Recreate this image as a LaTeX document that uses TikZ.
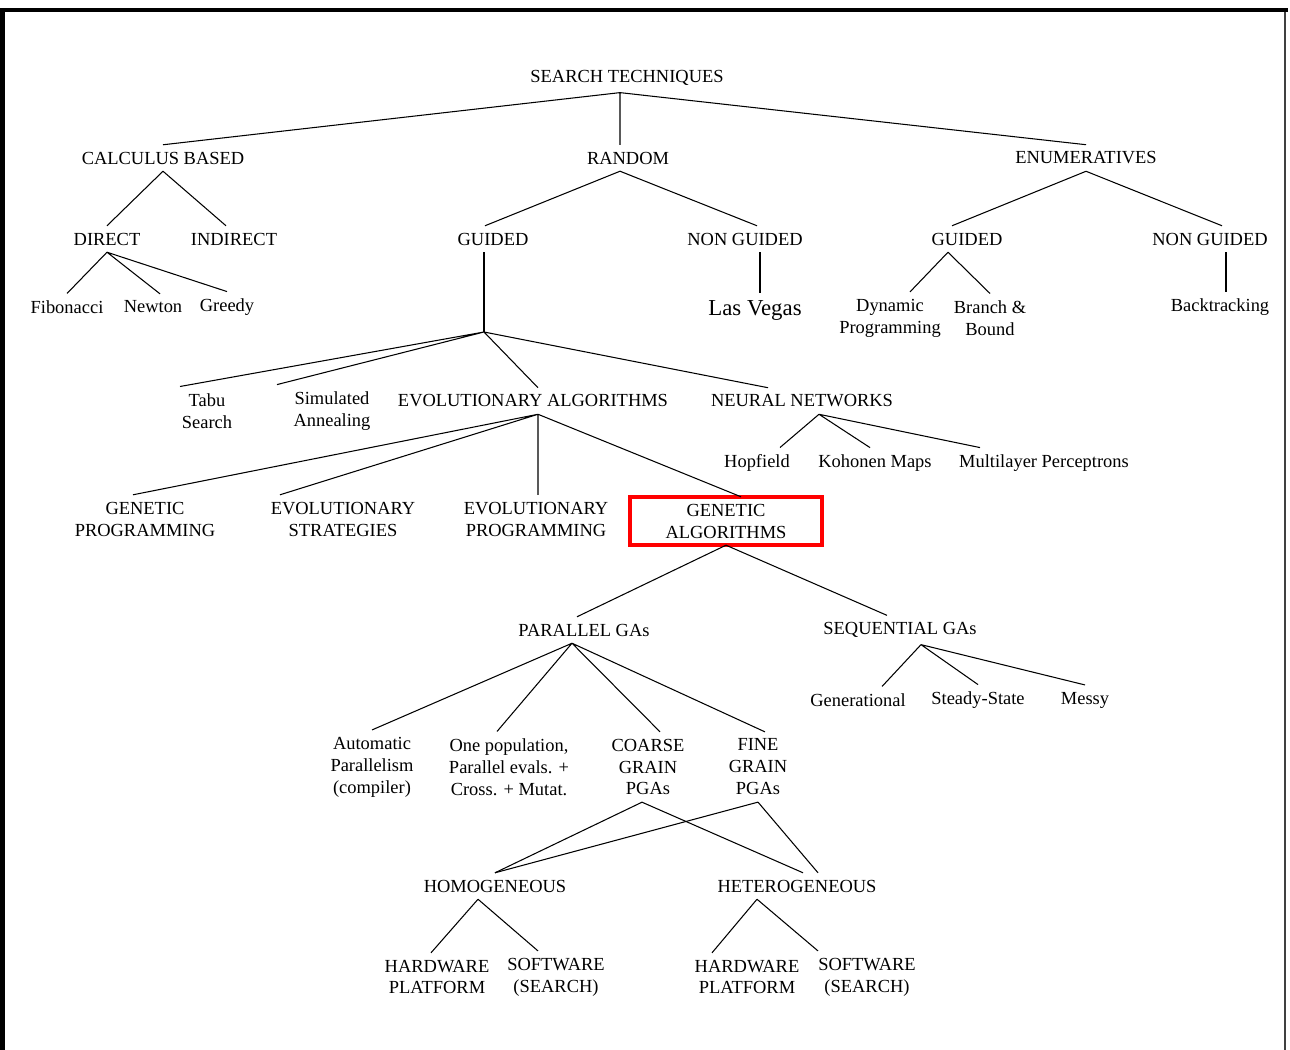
\documentclass[tikz,border=0pt]{standalone}
\usepackage{fontspec}
\setmainfont{Liberation Serif}
\begin{document}
\begin{tikzpicture}[x=0.02cm, y=-0.02cm,
    term/.style={inner sep=4pt, outer sep=0pt, align=center, font=\fontsize{10.5}{12.5}\selectfont},
    link/.style={line width=0.6pt, black}
  ]
  \useasboundingbox (0,0) rectangle (1290,1050);
  % frame
  \fill[black] (0,8) rectangle (1288,12);
  \fill[black] (0,8) rectangle (5,1050);
  \draw[line width=1pt, black!75] (1285,12) -- (1285,1050);

  % top levels
  \node[term] (root) at (627,78) {SEARCH TECHNIQUES};
  \node[term] (calc) at (163,158) {CALCULUS BASED};
  \node[term] (rand) at (628,158) {RANDOM};
  \node[term] (enum) at (1086,158) {ENUMERATIVES};
  \node[term] (direct) at (107,239) {DIRECT};
  \node[term] (indirect) at (234,239) {INDIRECT};
  \node[term] (rguided) at (493,239) {GUIDED};
  \node[term] (rnonguided) at (745,239) {NON GUIDED};
  \node[term] (eguided) at (967,239) {GUIDED};
  \node[term] (enonguided) at (1210,239) {NON GUIDED};
  \node[term] (fib) at (67,307) {Fibonacci};
  \node[term] (newton) at (153,307) {Newton};
  \node[term] (greedy) at (227,307) {Greedy};
  \node[term, font=\fontsize{13}{15}\selectfont] (lasvegas) at (755,310) {Las Vegas};
  \node[term] (dynprog) at (890,318) {Dynamic\\Programming};
  \node[term] (branch) at (990,318) {Branch \&\\Bound};
  \node[term] (backtrack) at (1220,307) {Backtracking};

  % guided search
  \node[term] (tabu) at (207,411) {Tabu\\Search};
  \node[term] (annealing) at (332,411) {Simulated\\Annealing};
  \node[term] (evoalg) at (533,401) {EVOLUTIONARY ALGORITHMS};
  \node[term] (neural) at (802,401) {NEURAL NETWORKS};
  \node[term] (hopfield) at (757,463) {Hopfield};
  \node[term] (kohonen) at (875,463) {Kohonen Maps};
  \node[term] (mlp) at (1044,463) {Multilayer Perceptrons};
  \node[term] (genprog) at (145,519) {GENETIC\\PROGRAMMING};
  \node[term] (evostrat) at (343,519) {EVOLUTIONARY\\STRATEGIES};
  \node[term] (evoprog) at (536,519) {EVOLUTIONARY\\PROGRAMMING};
  \node[term, draw=red, line width=2.3pt, minimum width=3.84cm, minimum height=0.96cm] (genalg) at (726,521) {GENETIC\\ALGORITHMS};

  % genetic algorithms
  \node[term] (parallel) at (584,630) {PARALLEL GAs};
  \node[term] (sequential) at (900,630) {SEQUENTIAL GAs};
  \node[term] (generational) at (858,700) {Generational};
  \node[term] (steady) at (978,700) {Steady-State};
  \node[term] (messy) at (1085,700) {Messy};
  \node[term] (autopar) at (372,767) {Automatic\\Parallelism\\(compiler)};
  \node[term] (onepop) at (509,767) {One population,\\Parallel evals. +\\Cross. + Mutat.};
  \node[term] (coarse) at (648,767) {COARSE\\GRAIN\\PGAs};
  \node[term] (fine) at (758,767) {FINE\\GRAIN\\PGAs};
  \node[term] (homog) at (495,886) {HOMOGENEOUS};
  \node[term] (heterog) at (797,886) {HETEROGENEOUS};
  \node[term] (hwA) at (437,977) {HARDWARE\\PLATFORM};
  \node[term] (swA) at (556,977) {SOFTWARE\\(SEARCH)};
  \node[term] (hwB) at (747,977) {HARDWARE\\PLATFORM};
  \node[term] (swB) at (867,977) {SOFTWARE\\(SEARCH)};

  % junctions
  \coordinate (rootJ) at ([shift={(-7,0)}]root.south);
  \coordinate (randJ) at ([shift={(-8,0)}]rand.south);
  \coordinate (eguidedJ) at ([shift={(-19,0)}]eguided.south);
  \coordinate (guidedJ) at (484,332);
  \coordinate (lvTop) at ([shift={(5,0)}]lasvegas.north);
  \coordinate (btTop) at ([shift={(6,0)}]backtrack.north);
  \coordinate (eaJ) at ([shift={(5,0)}]evoalg.south);
  \coordinate (nnJ) at ([shift={(17,0)}]neural.south);
  \coordinate (paJ) at ([shift={(-12,0)}]parallel.south);
  \coordinate (seqJ) at ([shift={(21,0)}]sequential.south);
  \coordinate (homJ) at ([shift={(-17,0)}]homog.south);
  \coordinate (hetJ) at ([shift={(-40,0)}]heterog.south);

  % connectors
  \draw[link] (rootJ) -- (calc.north)
    (rootJ) -- (rootJ |- rand.north)
    (rootJ) -- (enum.north);
  \draw[link] (calc.south) -- (direct.north)
    (calc.south) -- ([shift={(-8,0)}]indirect.north);
  \draw[link] (randJ) -- ([shift={(-8,0)}]rguided.north)
    (randJ) -- ([shift={(12,0)}]rnonguided.north);
  \draw[link] (enum.south) -- ([shift={(-15,0)}]eguided.north)
    (enum.south) -- ([shift={(12,0)}]enonguided.north);
  \draw[link] (direct.south) -- (fib.north)
    (direct.south) -- ([shift={(7,0)}]newton.north)
    (direct.south) -- (greedy.north);
  \draw[link] (lvTop |- rnonguided.south) -- (lvTop);
  \draw[link] (eguidedJ) -- ([shift={(20,0)}]dynprog.north)
    (eguidedJ) -- (branch.north);
  \draw[link] (btTop |- enonguided.south) -- (btTop);
  \draw[link] (guidedJ |- rguided.south) -- (guidedJ);
  \draw[link] (guidedJ) -- ([shift={(-27,0)}]tabu.north)
    (guidedJ) -- ([shift={(-55,0)}]annealing.north)
    (guidedJ) -- ([shift={(5,0)}]evoalg.north)
    (guidedJ) -- ([shift={(-34,0)}]neural.north);
  \draw[link] (eaJ) -- ([shift={(-12,0)}]genprog.north)
    (eaJ) -- ([shift={(-63,0)}]evostrat.north)
    (eaJ) -- (eaJ |- evoprog.north)
    (eaJ) -- ([shift={(15,0)}]genalg.north);
  \draw[link] (nnJ) -- ([shift={(23,0)}]hopfield.north)
    (nnJ) -- ([shift={(-5,0)}]kohonen.north)
    (nnJ) -- ([shift={(-64,0)}]mlp.north);
  \draw[link] (genalg.south) -- ([shift={(-7,0)}]parallel.north)
    (genalg.south) -- ([shift={(-13,0)}]sequential.north);
  \draw[link] (paJ) -- (autopar.north)
    (paJ) -- ([shift={(-12,0)}]onepop.north)
    (paJ) -- ([shift={(12,0)}]coarse.north)
    (paJ) -- ([shift={(7,0)}]fine.north);
  \draw[link] (seqJ) -- ([shift={(24,0)}]generational.north)
    (seqJ) -- (steady.north)
    (seqJ) -- (messy.north);
  \draw[link] ([shift={(-6,0)}]coarse.south) -- (homog.north)
    ([shift={(-6,0)}]coarse.south) -- ([shift={(6,0)}]heterog.north);
  \draw[link] (fine.south) -- (homog.north)
    (fine.south) -- ([shift={(21,0)}]heterog.north);
  \draw[link] (homJ) -- ([shift={(-6,0)}]hwA.north)
    (homJ) -- ([shift={(-18,0)}]swA.north);
  \draw[link] (hetJ) -- ([shift={(-35,0)}]hwB.north)
    (hetJ) -- ([shift={(-49,0)}]swB.north);
\end{tikzpicture}
\end{document}
